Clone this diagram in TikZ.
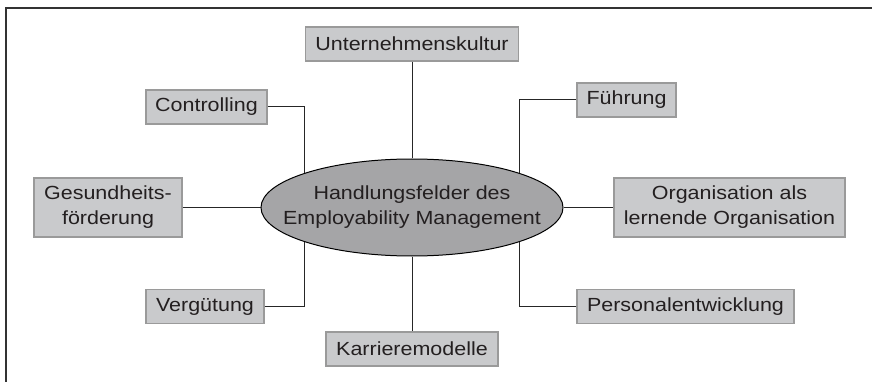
\documentclass[tikz,border=0pt]{standalone}
\usepackage{fontspec}
\setmainfont[FakeStretch=1.13]{Liberation Sans}
\usetikzlibrary{shapes.geometric}
\definecolor{boxfill}{HTML}{C9CACC}
\definecolor{boxline}{HTML}{9A9A9A}
\definecolor{ellfill}{HTML}{A5A5A7}
\definecolor{txt}{HTML}{231F20}
\begin{document}
\begin{tikzpicture}[x=1pt,y=-1pt,
  field/.style={draw=boxline, line width=1.2pt, fill=boxfill, text=txt, inner xsep=9pt, inner ysep=0pt, align=center, font=\fontsize{19}{25}\selectfont},
  one/.style={field, minimum height=34pt},
  two/.style={field, minimum height=59pt},
  link/.style={draw=black!85, line width=1pt}]
\useasboundingbox (0,0) rectangle (872,382);
\draw[line width=2pt, black!80] (6,382) -- (6,8) -- (872,8);
\node[ellipse, draw=black, line width=1pt, fill=ellfill, minimum width=302pt, minimum height=97pt, inner sep=0pt] (ell) at (412,207.5) {};
\node[text=txt, align=center, inner sep=0pt, font=\fontsize{19}{25}\selectfont] (elltxt) at (ell.center) {Handlungsfelder des\\Employability Management};
\node[one, minimum width=213pt] (unt) at (412,44) {Unternehmenskultur};
\node[one, minimum width=121pt] (ctrl) at (206.5,107) {Controlling};
\node[one, minimum width=99pt] (fue) at (626.5,100) {Führung};
\node[two, minimum width=148pt] (ges) at (108,207.5) {Gesundheits-\\förderung};
\node[two, minimum width=231pt] (org) at (729.5,207.5) {Organisation als\\lernende Organisation};
\node[one, minimum width=118pt] (verg) at (205,306.5) {Vergütung};
\node[one, minimum width=217pt] (pers) at (685.5,306.5) {Personalentwicklung};
\node[one, minimum width=172pt] (kar) at (412,349) {Karrieremodelle};
\draw[link] (unt.south) -- (ell.north);
\draw[link] (ell.south) -- (kar.north);
\draw[link] (ges.east) -- (ell.west);
\draw[link] (ell.east) -- (org.west);
\draw[link] (ctrl.east) -| (ell.north west);
\draw[link] (fue.west) -| (ell.north east);
\draw[link] (verg.east) -| (ell.south west);
\draw[link] (pers.west) -| (ell.south east);
\end{tikzpicture}
\end{document}
